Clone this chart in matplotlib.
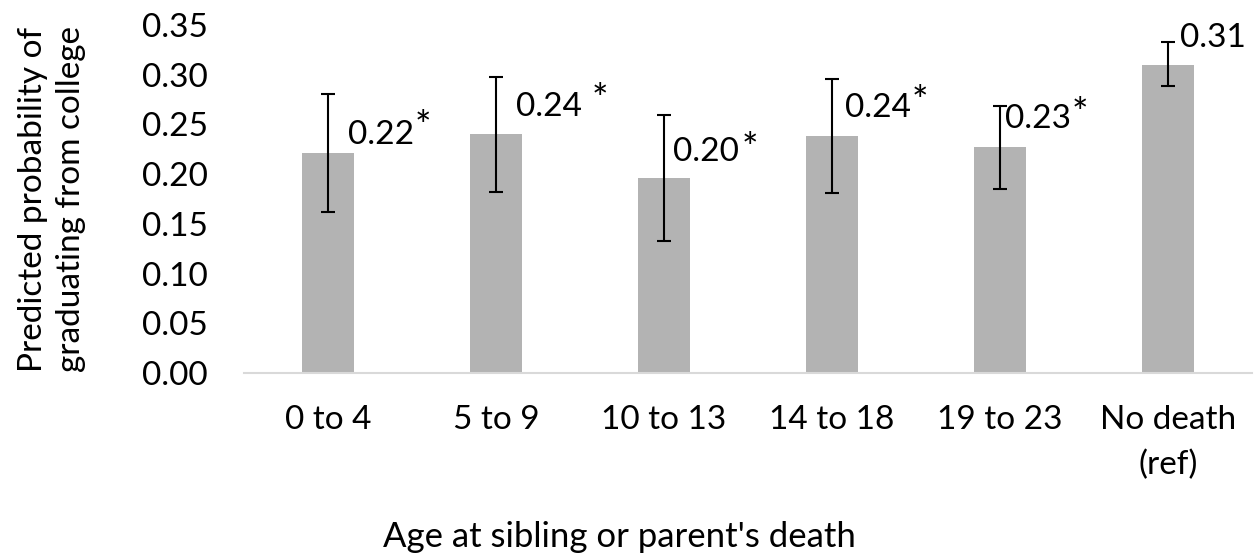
import matplotlib
matplotlib.use("Agg")
import matplotlib.pyplot as plt
import numpy as np

categories = ["0 to 4", "5 to 9", "10 to 13", "14 to 18", "19 to 23", "No death\n(ref)"]
values = [0.221, 0.240, 0.196, 0.238, 0.227, 0.310]
err_upper = [0.281, 0.298, 0.259, 0.296, 0.269, 0.333]
err_lower = [0.162, 0.182, 0.133, 0.181, 0.185, 0.289]
value_labels = ["0.22", "0.24", "0.20", "0.24", "0.23", "0.31"]
significant = [True, True, True, True, True, False]

# label placement offsets in pixels (style only)
label_dx = [20, 20, 9, 13, 5, 12]
label_dy = [18, 27, 26, 28, 28, 27]
star_dx = [95, 104, 86, 88, 80, 0]
star_dy = [33, 41, 36, 41, 40, 0]

plt.rcParams['font.family'] = ['Lato', 'DejaVu Sans']
FS = 24

fig = plt.figure(figsize=(12.57, 5.55), dpi=100)
ax = fig.add_axes([244/1257, (555-373)/555, (1252-244)/1257, (373-25)/555])

x = np.arange(len(categories))
vals = np.array(values)
yerr = np.array([vals - np.array(err_lower), np.array(err_upper) - vals])
ax.bar(x, vals, width=0.315, color="#b3b3b3", zorder=2)
ax.errorbar(x, vals, yerr=yerr, fmt="none", ecolor="black", elinewidth=1.5,
            capsize=5, capthick=1.5, zorder=3)

for i in range(len(categories)):
    ax.annotate(value_labels[i], (x[i], vals[i]), xytext=(label_dx[i], label_dy[i]),
                textcoords="offset pixels", ha="left", va="center", fontsize=FS)
    if significant[i]:
        ax.annotate("*", (x[i], vals[i]), xytext=(star_dx[i], star_dy[i] - 8),
                    textcoords="offset pixels", ha="center", va="center", fontsize=28)

ax.set_xlim(-0.5, len(categories) - 0.5)
ax.set_ylim(0, 0.35)
ax.set_yticks(np.arange(0, 0.351, 0.05))
ax.set_yticklabels([f"{t:.2f}" for t in np.arange(0, 0.351, 0.05)], fontsize=FS)
ax.set_xticks(x)
ax.set_xticklabels(categories, fontsize=FS, va="top", linespacing=1.6)
ax.tick_params(axis="both", length=0)
ax.tick_params(axis="x", pad=23)
ax.tick_params(axis="y", pad=26)
for s in ["top", "right", "left"]:
    ax.spines[s].set_visible(False)
ax.spines["bottom"].set_color("#d9d9d9")
ax.spines["bottom"].set_linewidth(1.5)

ax.set_xlabel("Age at sibling or parent's death", fontsize=25, va="center")
ax.xaxis.set_label_coords((619 - 244) / 1008, (373 - 537) / 348)
ax.set_ylabel("Predicted probability of\ngraduating from college", fontsize=FS,
              va="center", linespacing=1.3)
ax.yaxis.set_label_coords((52 - 244) / 1008, 0.5)

fig.savefig("out.png", dpi=100)
